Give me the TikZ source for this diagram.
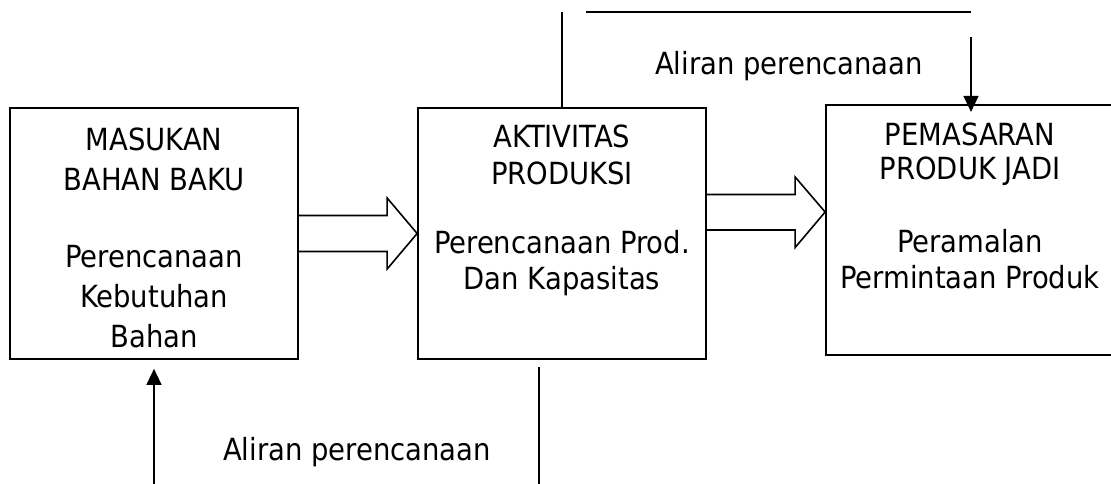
\documentclass[tikz,border=0pt]{standalone}
\usepackage{fontspec}
\setmainfont{DejaVu Sans Condensed}
\usetikzlibrary{arrows.meta,calc,positioning}
\tikzset{
  kotak/.style={draw,line width=1.7pt,minimum width=288,minimum height=251,inner sep=0pt},
  teks/.style={align=center,inner sep=0pt,font=\fontsize{30.5}{40}\selectfont},
  teksrapat/.style={teks,font=\fontsize{30.5}{36.5}\selectfont},
  garis/.style={line width=1.5pt},
  blok/.style={line width=1.6pt,line join=miter},
  panah/.style={garis,-{Triangle[length=16pt,width=15pt]}}
}
\begin{document}
\begin{tikzpicture}[x=1pt,y=-1pt]
\useasboundingbox (0,0) rectangle (1111,484);
% kotak
\node[kotak] (masukan) at (154,233.5) {};
\node[kotak] (aktivitas) at (562,233.5) {};
\node[kotak,minimum height=250.5] (pemasaran) at (970,230) {};
% isi kotak
\node[teks,anchor=north] (masukanJudul) at (154,128) {MASUKAN\\BAHAN BAKU};
\node[teks,anchor=north] (masukanIsi) at (154,245) {Perencanaan\\Kebutuhan\\Bahan};
\node[teksrapat,anchor=north] (aktivitasJudul) at (562,125) {AKTIVITAS\\PRODUKSI};
\node[teksrapat,anchor=north] (aktivitasIsi) at (562,230) {Perencanaan Prod.\\Dan Kapasitas};
\node[teksrapat,anchor=north,font=\fontsize{30.5}{34}\selectfont] (pemasaranJudul) at (970,123) {PEMASARAN\\PRODUK JADI};
\node[teksrapat,anchor=north] (pemasaranIsi) at (970,229) {Peramalan\\Permintaan Produk};
% panah blok
\draw[blok] ($(aktivitas.west)+(-120,-18)$) -- ++(90,0) -- ++(0,-17.5) -- (aktivitas.west)
  -- ++(-30,35.5) -- ++(0,-17.5) -- ++(-90,0);
\draw[blok] ($(pemasaran.west)+(-120,-35.5)$) -- ++(90,0) -- ++(0,-17.5) -- ($(pemasaran.west)+(0,-18)$)
  -- ++(-30,35.5) -- ++(0,-17.5) -- ++(-90,0);
% aliran atas
\coordinate (atasKiri) at (562,12);
\coordinate (atasGaris1) at (586,12);
\coordinate (atasGaris2) at (971,12);
\coordinate (atasPanah) at (971,37);
\draw[garis] (aktivitas.north) -- (atasKiri);
\draw[garis] (atasGaris1) -- (atasGaris2);
\draw[panah] (atasPanah) -- ($(pemasaran.north)+(1,8)$);
\node[teks,anchor=base] (aliranAtas) at (789,75) {Aliran perencanaan};
% aliran bawah
\coordinate (bawahKiri) at (154,484);
\coordinate (bawahKanan1) at (539,367);
\coordinate (bawahKanan2) at (539,484);
\draw[panah] (bawahKiri) -- ($(masukan.south)+(0,9)$);
\draw[garis] (bawahKanan1) -- (bawahKanan2);
\node[teks,anchor=base] (aliranBawah) at (357,460) {Aliran perencanaan};
\end{tikzpicture}
\end{document}
